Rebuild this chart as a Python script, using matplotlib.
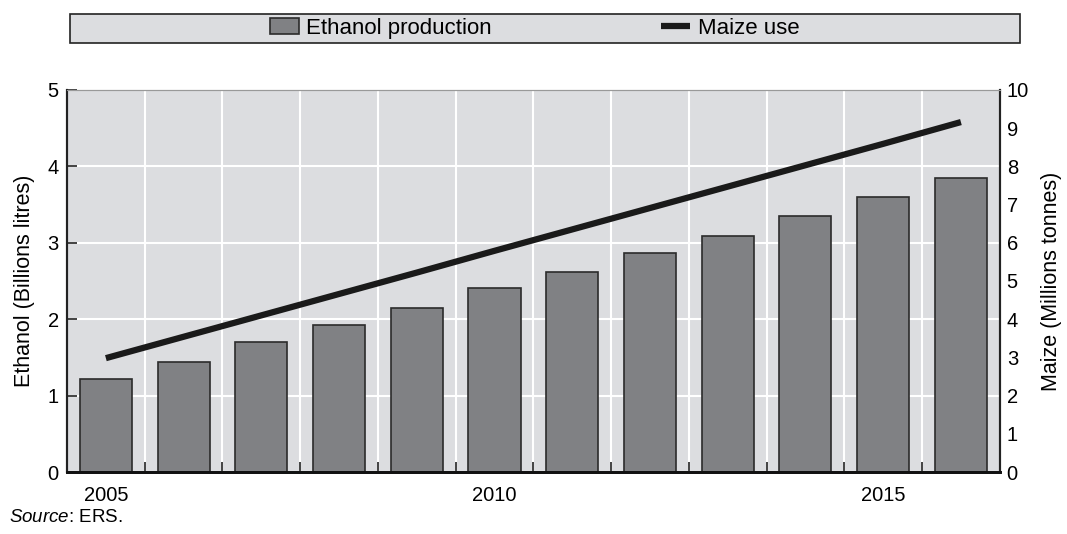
import numpy as np
import matplotlib.pyplot as plt
from matplotlib.patches import Rectangle

plt.rcParams['font.family'] = ['Liberation Sans', 'DejaVu Sans']
plt.rcParams['mathtext.fontset'] = 'custom'
plt.rcParams['mathtext.rm'] = 'Liberation Sans'
plt.rcParams['mathtext.it'] = 'Liberation Sans:italic'

years = np.arange(2005, 2017)
ethanol = [1.22, 1.44, 1.70, 1.92, 2.15, 2.41, 2.62, 2.87, 3.09, 3.35, 3.60, 3.85]
maize = [2.98, 3.54, 4.10, 4.66, 5.22, 5.79, 6.35, 6.91, 7.47, 8.03, 8.59, 9.16]
xlabels = ['2005', '2010', '2015']

bg = '#dcdde0'
fs = 14.5

fig = plt.figure(figsize=(10.67, 5.34), dpi=100)
ax = fig.add_axes([0.0628, 0.1161, 0.8742, 0.7154])
ax.set_facecolor(bg)

bars = ax.bar(years, ethanol, width=0.67, color='#808184', edgecolor='#2b2b2b',
              linewidth=1.2, zorder=2, label='Ethanol production')
ax.set_xlim(2004.5, 2016.5)
ax.set_ylim(0, 5)
ax.set_xticks([2005, 2010, 2015])
ax.set_xticklabels(xlabels, fontsize=fs)
ax.set_xticks(years[:-1] + 0.5, minor=True)
ax.tick_params(axis='x', which='major', length=0, pad=10)
ax.tick_params(axis='x', which='minor', direction='in', length=7, width=1.2, color='#222')
ax.set_yticks(range(6))
ax.tick_params(axis='y', direction='in', length=7, width=1.2, color='#222', labelsize=fs, pad=6)
ax.grid(axis='x', which='minor', color='white', linewidth=1.5)
ax.grid(axis='y', which='major', color='white', linewidth=1.5)
ax.set_axisbelow(True)
ax.set_ylabel('Ethanol (Billions litres)', fontsize=15.5, labelpad=9)

ax2 = ax.twinx()
line, = ax2.plot(years, maize, color='#1a1a1a', linewidth=4.5, solid_capstyle='butt',
                 label='Maize use', zorder=3)
ax2.set_ylim(0, 10)
ax2.set_yticks(range(11))
ax2.set_yticks([2, 4, 6, 8], minor=True)
ax2.tick_params(axis='y', which='major', length=0, labelsize=fs, pad=5)
ax2.tick_params(axis='y', which='minor', direction='out', length=4, width=1.2, color='#222')
ax2.set_ylabel('Maize (Millions tonnes)', fontsize=15.5, labelpad=9)

for a in (ax, ax2):
    a.spines['left'].set_linewidth(1.5)
    a.spines['left'].set_color('#222')
    a.spines['right'].set_linewidth(1.5)
    a.spines['right'].set_color('#222')
    a.spines['bottom'].set_linewidth(2)
    a.spines['bottom'].set_color('#111')
    a.spines['top'].set_linewidth(0.8)
    a.spines['top'].set_color('#999')

# legend box across the top
fig.patches.append(Rectangle((0.0656, 0.9195), 0.8904, 0.0543, transform=fig.transFigure,
                             facecolor=bg, edgecolor='#222', linewidth=1.2, zorder=0))
fig.legend(handles=[bars, line], loc='center', bbox_to_anchor=(0.501, 0.9466), ncol=2,
           frameon=False, fontsize=16, handlelength=1.3, handleheight=0.75,
           handletextpad=0.35, columnspacing=7.6)

fig.text(0.008, 0.015, r'$\mathit{Source}$: ERS.', fontsize=13.5, ha='left', va='bottom')

fig.savefig('out.png', dpi=100)
